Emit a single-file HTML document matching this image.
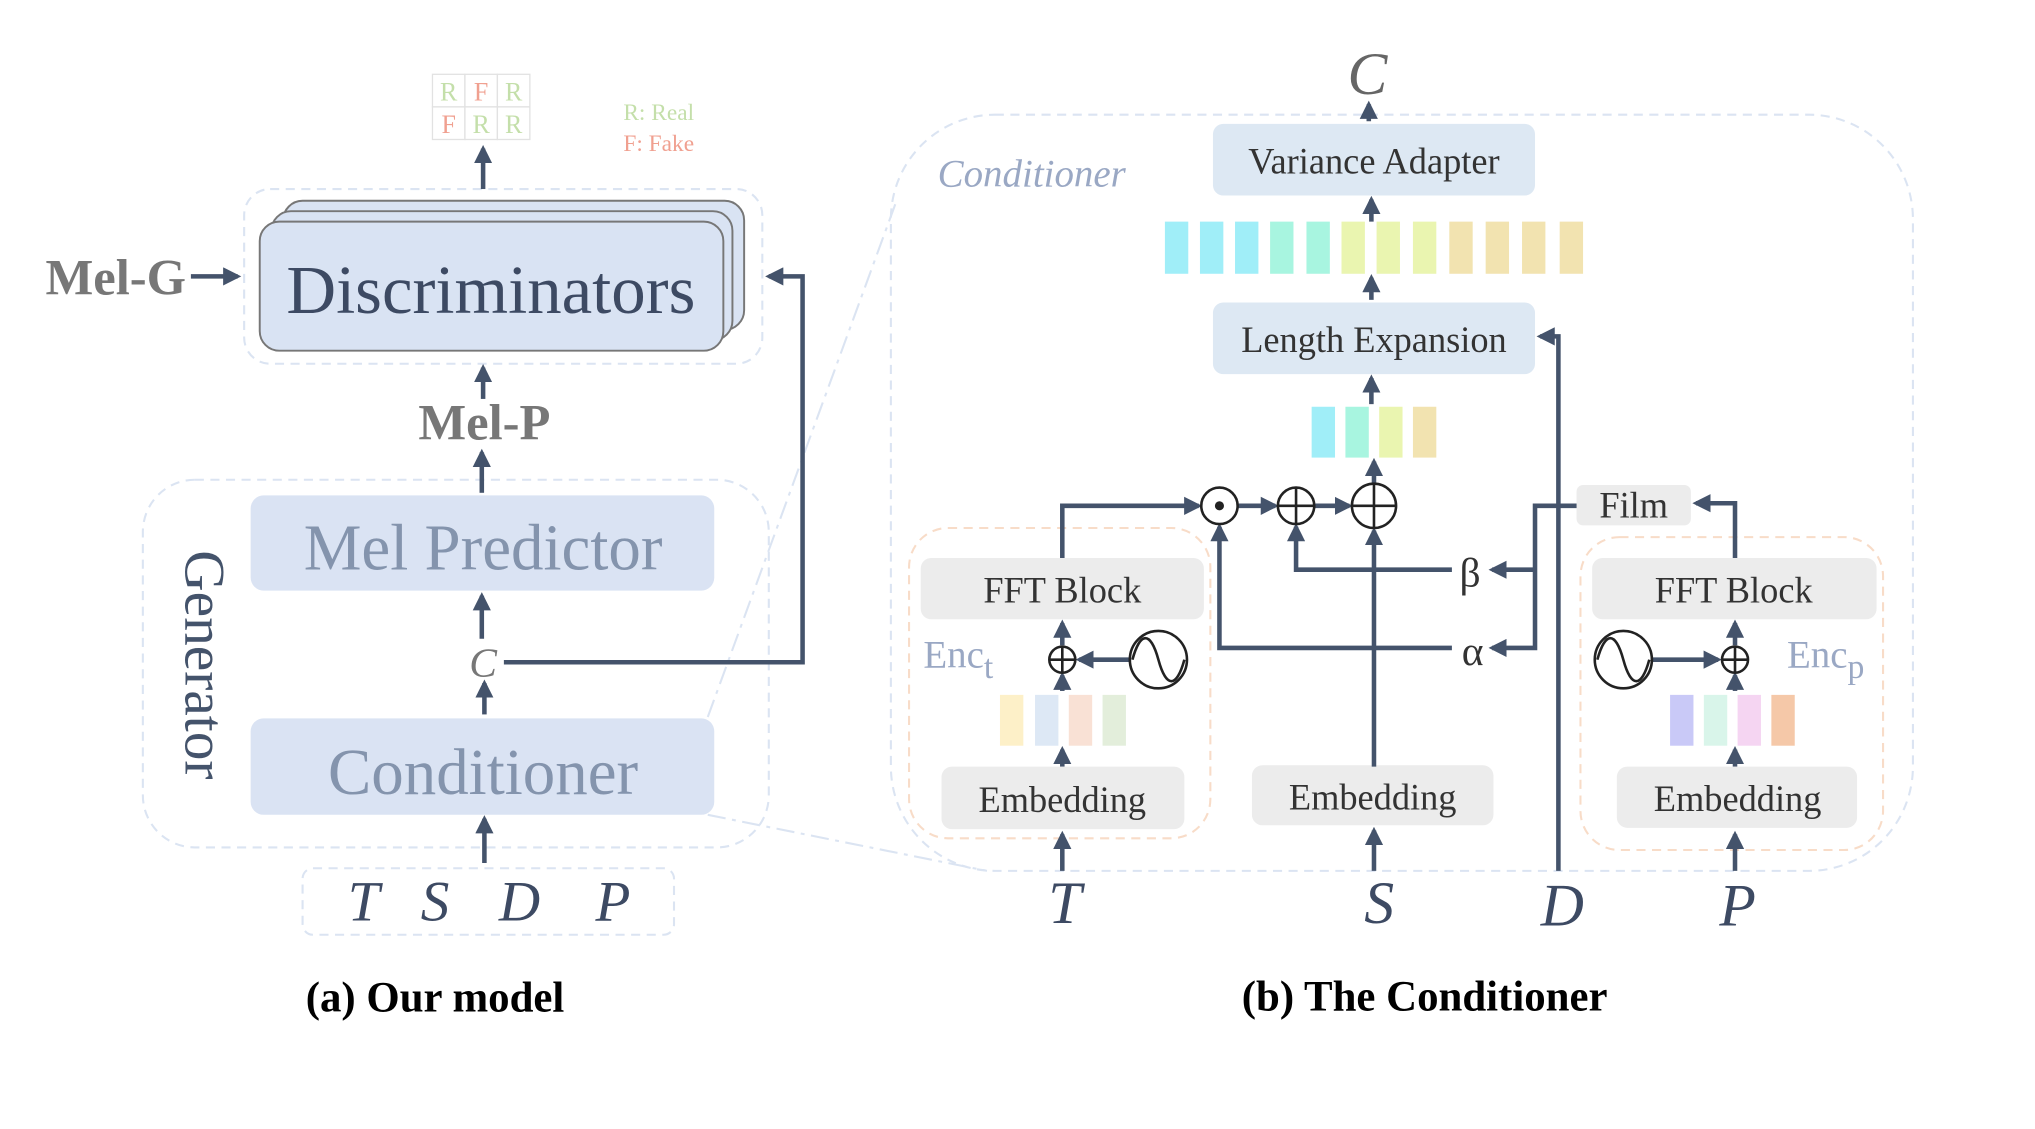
<!DOCTYPE html>
<html><head><meta charset="utf-8"><style>
html,body{margin:0;padding:0;background:#fff;}
svg{display:block;}
text{font-family:"Liberation Serif",serif;}
</style></head><body>
<svg width="2035" height="1129" viewBox="0 0 1567 866" preserveAspectRatio="none" xmlns="http://www.w3.org/2000/svg">
<defs>
<marker id="a" markerWidth="4" markerHeight="4" refX="3.2" refY="2" orient="auto" markerUnits="strokeWidth"><path d="M0,0 L4,2 L0,4 Z" fill="#44536b"/></marker>
</defs>
<g fill="none" stroke="#dbe4f2" stroke-width="1.6" stroke-dasharray="7,5">
<rect x="188" y="145" width="399" height="134" rx="20"/>
<rect x="110" y="368" width="482" height="282" rx="40"/>
<rect x="233" y="666" width="286" height="51" rx="8"/>
<rect x="686" y="88" width="787" height="580" rx="80"/>
</g>
<g fill="none" stroke="#dbe4f2" stroke-width="1.6" stroke-dasharray="14,5,3,5">
<line x1="545" y1="550" x2="690" y2="155"/>
<line x1="545" y1="625" x2="760" y2="668"/>
</g>
<g fill="none" stroke="#f8dcc8" stroke-width="1.6" stroke-dasharray="7,5">
<rect x="700" y="405" width="232" height="238" rx="30"/>
<rect x="1217" y="412" width="233" height="240" rx="30"/>
</g>
<g stroke="#e2e2e2" stroke-width="1" fill="#fff">
<rect x="333" y="57" width="25" height="25"/><rect x="358" y="57" width="25" height="25"/><rect x="383" y="57" width="25" height="25"/>
<rect x="333" y="82" width="25" height="25"/><rect x="358" y="82" width="25" height="25"/><rect x="383" y="82" width="25" height="25"/>
</g>
<g font-size="20" text-anchor="middle">
<text x="345.5" y="77" fill="#c4dfaa">R</text><text x="370.5" y="77" fill="#f0a090">F</text><text x="395.5" y="77" fill="#c4dfaa">R</text>
<text x="345.5" y="102" fill="#f0a090">F</text><text x="370.5" y="102" fill="#c4dfaa">R</text><text x="395.5" y="102" fill="#c4dfaa">R</text>
</g>
<text x="480" y="92" font-size="18" fill="#c4dfaa">R: Real</text>
<text x="480" y="116" font-size="18" fill="#f0a090">F: Fake</text>
<rect x="218" y="154" width="355" height="99" rx="15" fill="#d9e3f3" stroke="#777" stroke-width="1.5"/>
<rect x="209" y="162" width="355" height="99" rx="15" fill="#d9e3f3" stroke="#777" stroke-width="1.5"/>
<rect x="200" y="170" width="357" height="99" rx="15" fill="#d9e3f3" stroke="#777" stroke-width="1.5"/>
<text x="378" y="240" font-size="53" fill="#3d4a63" text-anchor="middle">Discriminators</text>
<text x="35" y="226" font-size="39" font-weight="bold" fill="#777">Mel-G</text>
<text x="373" y="337" font-size="39" font-weight="bold" fill="#777" text-anchor="middle">Mel-P</text>
<rect x="193" y="380" width="357" height="73" rx="10" fill="#dae3f3"/>
<text x="372" y="437" font-size="50" fill="#8494ad" text-anchor="middle">Mel Predictor</text>
<rect x="193" y="551" width="357" height="74" rx="10" fill="#dae3f3"/>
<text x="372" y="609" font-size="50" fill="#8494ad" text-anchor="middle">Conditioner</text>
<text x="372" y="519" font-size="32" font-style="italic" fill="#777" text-anchor="middle">C</text>
<text transform="translate(143,510) rotate(90)" font-size="44" fill="#44536b" text-anchor="middle">Generator</text>
<g font-size="44" font-style="italic" fill="#3d4a63" text-anchor="middle">
<text x="280" y="706">T</text><text x="335" y="706">S</text><text x="400" y="706">D</text><text x="472" y="706">P</text>
</g>
<text x="335" y="776" font-size="33" font-weight="bold" text-anchor="middle">(a) Our model</text>
<g stroke="#44536b" stroke-width="3.5" fill="none" marker-end="url(#a)">
<line x1="372" y1="145" x2="372" y2="114"/>
<line x1="147" y1="212" x2="183" y2="212"/>
<line x1="372" y1="306" x2="372" y2="282"/>
<line x1="371" y1="378" x2="371" y2="347"/>
<line x1="371" y1="490" x2="371" y2="457"/>
<line x1="373" y1="548" x2="373" y2="524"/>
<line x1="373" y1="662" x2="373" y2="628"/>
<polyline points="388,508 618,508 618,212 592,212"/>
</g>
<text x="1053" y="72" font-size="46" font-style="italic" fill="#666" text-anchor="middle">C</text>
<text x="722" y="143" font-size="30" font-style="italic" fill="#9aa8c4">Conditioner</text>
<rect x="934" y="95" width="248" height="55" rx="8" fill="#dde8f3"/>
<text x="1058" y="133" font-size="28" fill="#333" text-anchor="middle">Variance Adapter</text>
<rect x="934" y="232" width="248" height="55" rx="8" fill="#dde8f3"/>
<text x="1058" y="270" font-size="28" fill="#333" text-anchor="middle">Length Expansion</text>
<g>
<rect x="897" y="170" width="18" height="40" fill="#a0eef8"/><rect x="924" y="170" width="18" height="40" fill="#a0eef8"/><rect x="951" y="170" width="18" height="40" fill="#a0eef8"/>
<rect x="978" y="170" width="18" height="40" fill="#a8f5e0"/><rect x="1006" y="170" width="18" height="40" fill="#a8f5e0"/>
<rect x="1033" y="170" width="18" height="40" fill="#eaf5b0"/><rect x="1060" y="170" width="18" height="40" fill="#eaf5b0"/><rect x="1088" y="170" width="18" height="40" fill="#eaf5b0"/>
<rect x="1116" y="170" width="18" height="40" fill="#f2e3b0"/><rect x="1144" y="170" width="18" height="40" fill="#f2e3b0"/><rect x="1172" y="170" width="18" height="40" fill="#f2e3b0"/><rect x="1201" y="170" width="18" height="40" fill="#f2e3b0"/>
<rect x="1010" y="312" width="18" height="39" fill="#a0eef8"/><rect x="1036" y="312" width="18" height="39" fill="#a8f5e0"/><rect x="1062" y="312" width="18" height="39" fill="#eaf5b0"/><rect x="1088" y="312" width="18" height="39" fill="#f2e3b0"/>
<rect x="770" y="533" width="18" height="39" fill="#fdf0c8"/><rect x="797" y="533" width="18" height="39" fill="#dde8f5"/><rect x="823" y="533" width="18" height="39" fill="#f9e1d5"/><rect x="849" y="533" width="18" height="39" fill="#e3eedb"/>
<rect x="1286" y="533" width="18" height="39" fill="#c9c9f7"/><rect x="1312" y="533" width="18" height="39" fill="#d9f5ea"/><rect x="1338" y="533" width="18" height="39" fill="#f5d5f2"/><rect x="1364" y="533" width="18" height="39" fill="#f5c8a8"/>
</g>
<g fill="#ececec">
<rect x="709" y="428" width="218" height="47" rx="8"/>
<rect x="725" y="588" width="187" height="48" rx="8"/>
<rect x="964" y="587" width="186" height="46" rx="8"/>
<rect x="1226" y="428" width="219" height="47" rx="8"/>
<rect x="1245" y="588" width="185" height="47" rx="8"/>
<rect x="1214" y="372" width="88" height="31" rx="5"/>
</g>
<g font-size="28" fill="#333" text-anchor="middle">
<text x="818" y="462">FFT Block</text>
<text x="818" y="623">Embedding</text>
<text x="1057" y="621">Embedding</text>
<text x="1335" y="462">FFT Block</text>
<text x="1338" y="622">Embedding</text>
<text x="1258" y="397">Film</text>
</g>
<text x="711" y="512" font-size="30" fill="#9aa8c4">Enc<tspan font-size="26" dy="8">t</tspan></text>
<text x="1376" y="512" font-size="30" fill="#9aa8c4">Enc<tspan font-size="26" dy="8">p</tspan></text>
<text x="1132" y="450" font-size="32" fill="#333" text-anchor="middle">β</text>
<text x="1134" y="510" font-size="32" fill="#333" text-anchor="middle">α</text>
<g stroke="#44536b" stroke-width="3.5" fill="none" marker-end="url(#a)">
<line x1="1054" y1="93" x2="1054" y2="80"/>
<line x1="1056" y1="170" x2="1056" y2="153"/>
<line x1="1056" y1="230" x2="1056" y2="213"/>
<line x1="1056" y1="310" x2="1056" y2="290"/>
<line x1="1058" y1="371" x2="1058" y2="354"/>
<polyline points="818,428 818,388 923,388"/>
<line x1="953" y1="388" x2="982" y2="388"/>
<line x1="1012" y1="388" x2="1039" y2="388"/>
<polyline points="1118,437 998,437 998,404"/>
<polyline points="1118,497 939,497 939,404"/>
<line x1="1058" y1="588" x2="1058" y2="407"/>
<polyline points="1214,388 1182,388 1182,497 1149,497"/>
<line x1="1182" y1="437" x2="1149" y2="437"/>
<polyline points="1200,668 1200,258 1186,258"/>
<polyline points="1336,428 1336,386 1306,386"/>
<line x1="870" y1="506" x2="831" y2="506"/>
<line x1="818" y1="495" x2="818" y2="478"/>
<line x1="818" y1="530" x2="818" y2="518"/>
<line x1="818" y1="588" x2="818" y2="575"/>
<line x1="818" y1="668" x2="818" y2="640"/>
<line x1="1058" y1="668" x2="1058" y2="637"/>
<line x1="1272" y1="506" x2="1323" y2="506"/>
<line x1="1336" y1="495" x2="1336" y2="478"/>
<line x1="1336" y1="530" x2="1336" y2="518"/>
<line x1="1336" y1="588" x2="1336" y2="575"/>
<line x1="1336" y1="668" x2="1336" y2="640"/>
</g>
<g stroke="#222" stroke-width="2" fill="#fff">
<circle cx="939" cy="388" r="14"/>
<circle cx="998" cy="388" r="14"/><path d="M984,388h28M998,374v28" fill="none"/>
<circle cx="1058" cy="388" r="17"/><path d="M1041,388h34M1058,371v34" fill="none"/>
<circle cx="818" cy="506" r="10"/><path d="M808,506h20M818,496v20" fill="none"/>
<circle cx="1336" cy="506" r="10"/><path d="M1326,506h20M1336,496v20" fill="none"/>
<circle cx="892" cy="506" r="22"/><path d="M872,506 C878,484 886,484 892,506 S906,528 912,506" fill="none"/>
<circle cx="1250" cy="506" r="22"/><path d="M1230,506 C1236,484 1244,484 1250,506 S1264,528 1270,506" fill="none"/>
</g>
<circle cx="939" cy="388" r="3.5" fill="#222"/>
<g font-size="46" font-style="italic" fill="#3d4a63" text-anchor="middle">
<text x="820" y="708">T</text><text x="1062" y="708">S</text><text x="1203" y="710">D</text><text x="1338" y="710">P</text>
</g>
<text x="1097" y="775" font-size="33" font-weight="bold" text-anchor="middle">(b) The Conditioner</text>
</svg>
</body></html>
